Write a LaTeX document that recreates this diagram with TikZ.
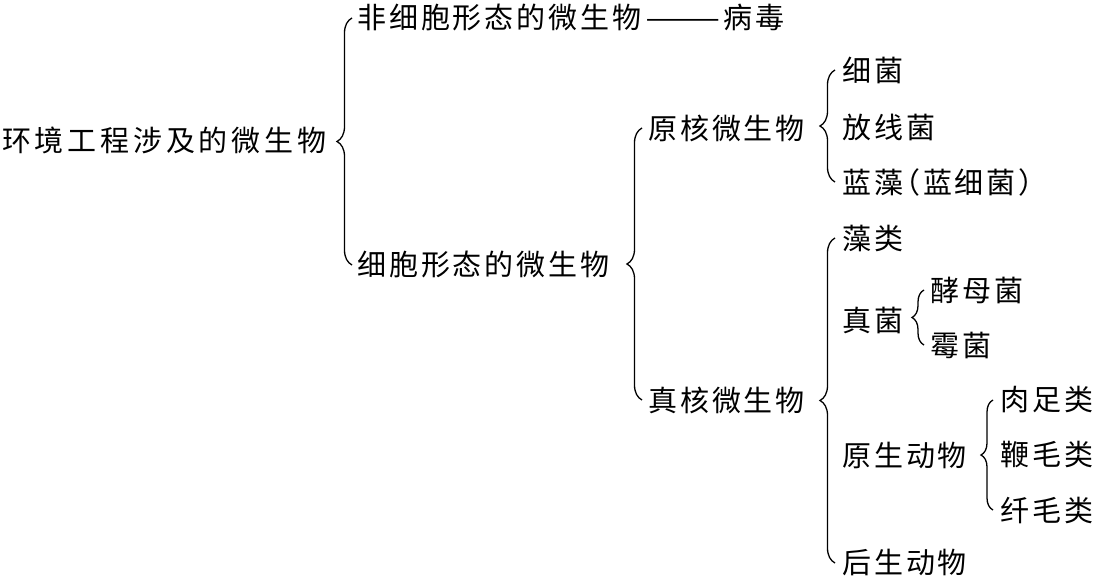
\documentclass[tikz,border=0pt]{standalone}
\usepackage{fontspec}
\usetikzlibrary{decorations.pathreplacing}
\newfontfamily\cjk[LetterSpace=10]{Noto Sans CJK SC}
\newfontfamily\cjkwide[LetterSpace=13]{Noto Sans CJK SC}
\tikzset{
  txt/.style={anchor=west, inner sep=0pt, font=\cjk\fontsize{29}{31}\selectfont},
  br/.style={decorate, line width=1.3pt, decoration={brace, amplitude=#1}},
  br/.default=15pt
}
\begin{document}
\begin{tikzpicture}[x=1pt,y=-1pt]
\useasboundingbox[fill=white] (0,0) rectangle (1093,578);
\node[txt, font=\cjkwide\fontsize{29}{31}\selectfont] (root) at (2,140) {环境工程涉及的微生物};
\node[txt] (n1) at (357,18) {非细胞形态的微生物\kern4pt\scalebox{1.55}[1]{——}\kern3pt病毒};
\node[txt] (n2) at (357,265) {细胞形态的微生物};
\node[txt] (p1) at (648,128) {原核微生物};
\node[txt] (p2) at (648,400) {真核微生物};
\node[txt] (a1) at (842,70) {细菌};
\node[txt] (a2) at (842,127) {放线菌};
\node[txt] (a3) at (842,182) {蓝藻\kern-12pt（蓝细菌）};
\node[txt] (b1) at (842,238) {藻类};
\node[txt] (b2) at (842,320) {真菌};
\node[txt] (b3) at (842,455) {原生动物};
\node[txt] (b4) at (842,563) {后生动物};
\node[txt] (c1) at (930,290) {酵母菌};
\node[txt] (c2) at (930,345) {霉菌};
\node[txt] (d1) at (1000,400) {肉足类};
\node[txt] (d2) at (1000,455) {鞭毛类};
\node[txt] (d3) at (1000,510) {纤毛类};
\draw[br] ([xshift=-5pt]n2.west) -- ([xshift=-5pt]n1.west);
\draw[br] ([xshift=-6pt]p2.west) -- ([xshift=-6pt]p1.west);
\draw[br] ([xshift=-7pt]a3.west) -- ([xshift=-7pt]a1.west);
\draw[br] ([xshift=-7pt]b4.west) -- ([xshift=-7pt]b1.west);
\draw[br=12pt] ([xshift=-6pt]c2.west) -- ([xshift=-6pt]c1.west);
\draw[br=12pt] ([xshift=-7pt]d3.west) -- ([xshift=-7pt]d1.west);
\end{tikzpicture}
\end{document}
